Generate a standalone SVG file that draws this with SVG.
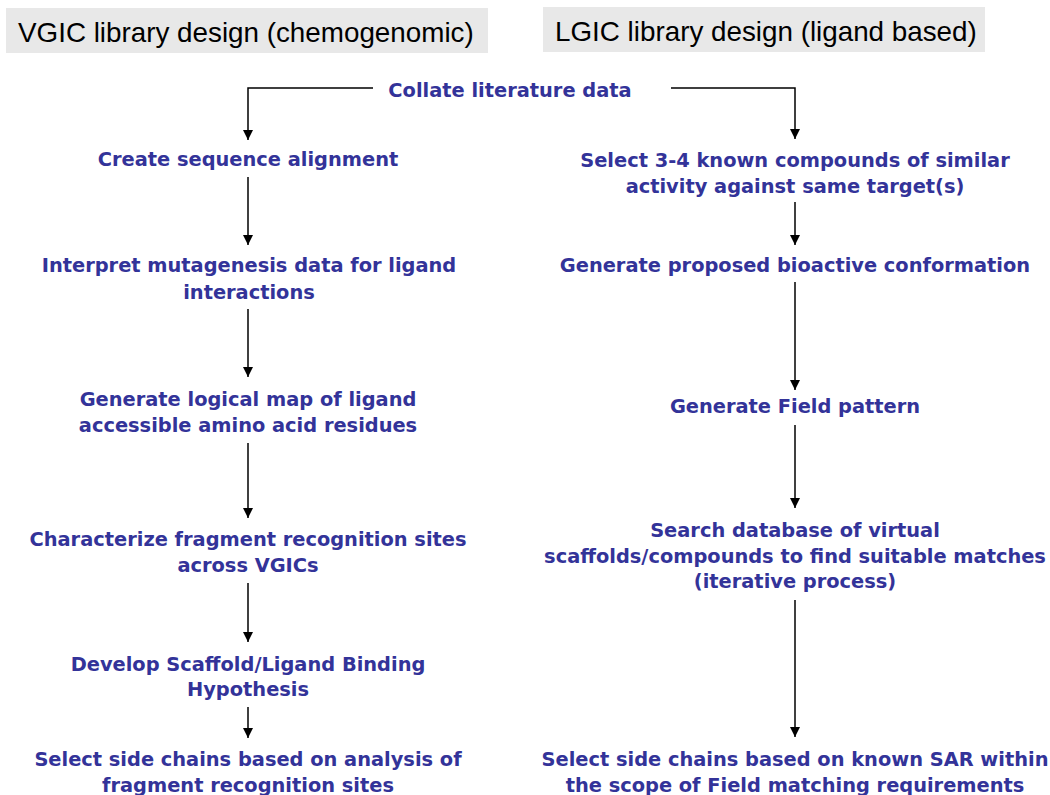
<svg xmlns="http://www.w3.org/2000/svg" width="1050" height="795" viewBox="0 0 1050 795">
<defs>
<style>
.hd{fill:#e8e8e8}
.ht{font-family:"Liberation Sans",Arial,sans-serif;font-size:27.8px;fill:#000}
.t{font-family:"DejaVu Sans",Verdana,sans-serif;font-weight:bold;font-size:19.4px;fill:#333399;text-anchor:middle}
.c{fill:none;stroke:#000;stroke-width:1.5}
</style>
<marker id="ah" viewBox="0 0 10 10" refX="10" refY="5" markerWidth="10" markerHeight="10" markerUnits="userSpaceOnUse" orient="auto">
<path d="M0,0 L10,5 L0,10 Z" fill="#000"/>
</marker>
</defs>
<rect width="1050" height="795" fill="#fff"/>
<g id="header-vgic"><rect class="hd" x="6" y="8" width="482" height="45"/><text class="ht" x="18" y="42">VGIC library design (chemogenomic)</text></g>
<g id="header-lgic"><rect class="hd" x="543" y="7" width="442" height="45"/><text class="ht" x="555" y="41">LGIC library design (ligand based)</text></g>
<g id="connectors">
<path class="c" d="M373,88 H248 V140" marker-end="url(#ah)"/>
<path class="c" d="M671,88 H795 V139" marker-end="url(#ah)"/>
<path class="c" d="M248,177 V245" marker-end="url(#ah)"/>
<path class="c" d="M248,309 V377" marker-end="url(#ah)"/>
<path class="c" d="M248,443 V518" marker-end="url(#ah)"/>
<path class="c" d="M248,583 V642" marker-end="url(#ah)"/>
<path class="c" d="M248,707 V738" marker-end="url(#ah)"/>
<path class="c" d="M795,202 V245" marker-end="url(#ah)"/>
<path class="c" d="M795,282 V390" marker-end="url(#ah)"/>
<path class="c" d="M795,425 V508" marker-end="url(#ah)"/>
<path class="c" d="M795,600 V737" marker-end="url(#ah)"/>
</g>
<g id="n-collate"><text class="t" x="510" y="97">Collate literature data</text></g>
<g id="n-seq"><text class="t" x="248" y="166">Create sequence alignment</text></g>
<g id="n-mut"><text class="t" x="249" y="272">Interpret mutagenesis data for ligand</text><text class="t" x="249" y="299">interactions</text></g>
<g id="n-map"><text class="t" x="248" y="406">Generate logical map of ligand</text><text class="t" x="248" y="432">accessible amino acid residues</text></g>
<g id="n-frag"><text class="t" x="248" y="546">Characterize fragment recognition sites</text><text class="t" x="248" y="572">across VGICs</text></g>
<g id="n-hyp"><text class="t" x="248" y="671">Develop Scaffold/Ligand Binding</text><text class="t" x="248" y="696">Hypothesis</text></g>
<g id="n-side-l"><text class="t" x="248" y="766">Select side chains based on analysis of</text><text class="t" x="248" y="792">fragment recognition sites</text></g>
<g id="n-select"><text class="t" x="795" y="167">Select 3-4 known compounds of similar</text><text class="t" x="795" y="193">activity against same target(s)</text></g>
<g id="n-conf"><text class="t" x="795" y="272">Generate proposed bioactive conformation</text></g>
<g id="n-field"><text class="t" x="795" y="413">Generate Field pattern</text></g>
<g id="n-search"><text class="t" x="795" y="537">Search database of virtual</text><text class="t" x="795" y="563">scaffolds/compounds to find suitable matches</text><text class="t" x="795" y="588">(iterative process)</text></g>
<g id="n-side-r"><text class="t" x="795" y="766">Select side chains based on known SAR within</text><text class="t" x="795" y="792">the scope of Field matching requirements</text></g>
</svg>
